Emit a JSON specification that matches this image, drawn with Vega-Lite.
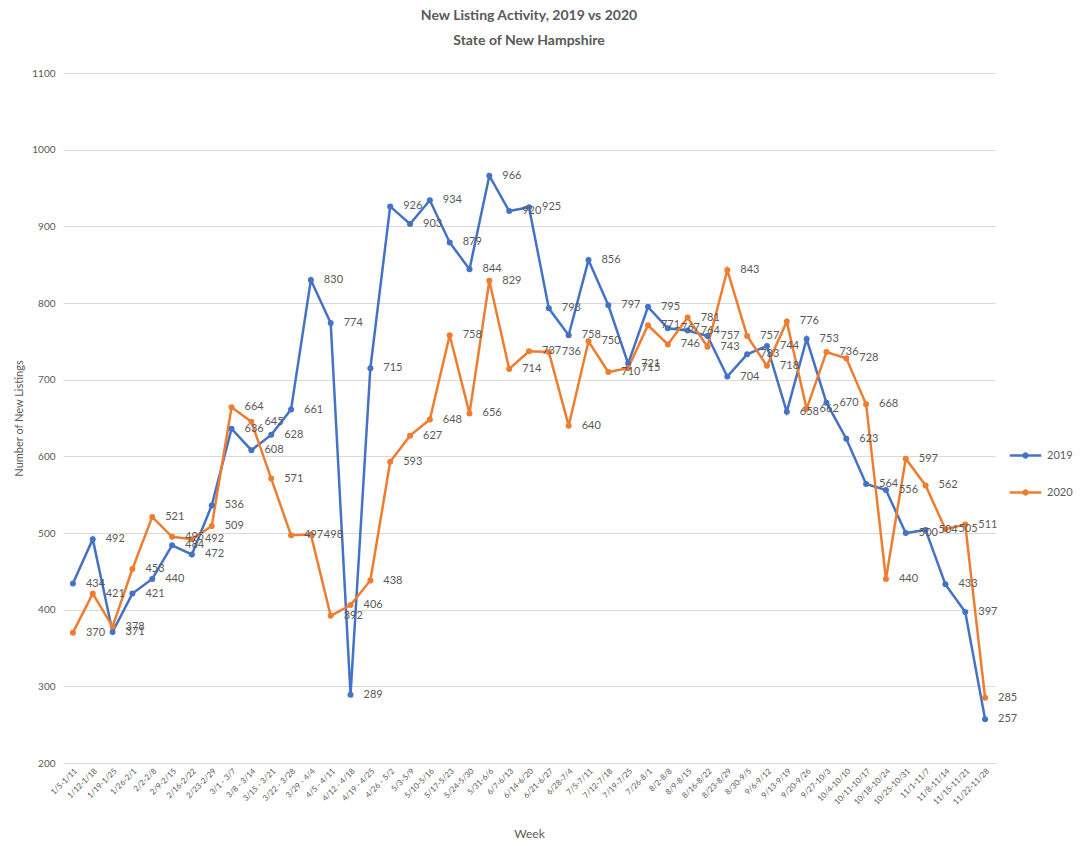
{
  "$schema": "https://vega.github.io/schema/vega-lite/v6.json",
  "autosize": {"type": "none"},
  "width": 932,
  "height": 690,
  "padding": {"left": 63, "top": 73, "right": 88, "bottom": 84},
  "background": "white",
  "config": {
    "font": "Lato",
    "view": {"stroke": null},
    "title": {"fontSize": 14, "fontWeight": "bold", "color": "#595959", "lineHeight": 25}
  },
  "title": {"text": ["New Listing Activity, 2019 vs 2020", "State of New Hampshire"], "anchor": "middle", "offset": 20},
  "data": {
    "values": [
      {"i": 0, "w": "1/5-1/11", "2019": 434, "2020": 370},
      {"i": 1, "w": "1/12-1/18", "2019": 492, "2020": 421},
      {"i": 2, "w": "1/19-1/25", "2019": 371, "2020": 378},
      {"i": 3, "w": "1/26-2/1", "2019": 421, "2020": 453},
      {"i": 4, "w": "2/2-2/8", "2019": 440, "2020": 521},
      {"i": 5, "w": "2/9-2/15", "2019": 484, "2020": 495},
      {"i": 6, "w": "2/16-2/22", "2019": 472, "2020": 492},
      {"i": 7, "w": "2/23-2/29", "2019": 536, "2020": 509},
      {"i": 8, "w": "3/1 - 3/7", "2019": 636, "2020": 664},
      {"i": 9, "w": "3/8 - 3/14", "2019": 608, "2020": 645},
      {"i": 10, "w": "3/15 - 3/21", "2019": 628, "2020": 571},
      {"i": 11, "w": "3/22 - 3/28", "2019": 661, "2020": 497},
      {"i": 12, "w": "3/29 - 4/4", "2019": 830, "2020": 498},
      {"i": 13, "w": "4/5 - 4/11", "2019": 774, "2020": 392},
      {"i": 14, "w": "4/12 - 4/18", "2019": 289, "2020": 406},
      {"i": 15, "w": "4/19 - 4/25", "2019": 715, "2020": 438},
      {"i": 16, "w": "4/26 - 5/2", "2019": 926, "2020": 593},
      {"i": 17, "w": "5/3-5/9", "2019": 903, "2020": 627},
      {"i": 18, "w": "5/10-5/16", "2019": 934, "2020": 648},
      {"i": 19, "w": "5/17-5/23", "2019": 879, "2020": 758},
      {"i": 20, "w": "5/24-5/30", "2019": 844, "2020": 656},
      {"i": 21, "w": "5/31-6/6", "2019": 966, "2020": 829},
      {"i": 22, "w": "6/7-6/13", "2019": 920, "2020": 714},
      {"i": 23, "w": "6/14-6/20", "2019": 925, "2020": 737},
      {"i": 24, "w": "6/21-6/27", "2019": 793, "2020": 736},
      {"i": 25, "w": "6/28-7/4", "2019": 758, "2020": 640},
      {"i": 26, "w": "7/5-7/11", "2019": 856, "2020": 750},
      {"i": 27, "w": "7/12-7/18", "2019": 797, "2020": 710},
      {"i": 28, "w": "7/19-7/25", "2019": 721, "2020": 715},
      {"i": 29, "w": "7/26-8/1", "2019": 795, "2020": 771},
      {"i": 30, "w": "8/2-8/8", "2019": 767, "2020": 746},
      {"i": 31, "w": "8/9-8/15", "2019": 764, "2020": 781},
      {"i": 32, "w": "8/16-8/22", "2019": 757, "2020": 743},
      {"i": 33, "w": "8/23-8/29", "2019": 704, "2020": 843},
      {"i": 34, "w": "8/30-9/5", "2019": 733, "2020": 757},
      {"i": 35, "w": "9/6-9/12", "2019": 744, "2020": 718},
      {"i": 36, "w": "9/13-9/19", "2019": 658, "2020": 776},
      {"i": 37, "w": "9/20-9/26", "2019": 753, "2020": 662},
      {"i": 38, "w": "9/27-10/3", "2019": 670, "2020": 736},
      {"i": 39, "w": "10/4-10/10", "2019": 623, "2020": 728},
      {"i": 40, "w": "10/11-10/17", "2019": 564, "2020": 668},
      {"i": 41, "w": "10/18-10/24", "2019": 556, "2020": 440},
      {"i": 42, "w": "10/25-10/31", "2019": 500, "2020": 597},
      {"i": 43, "w": "11/1-11/7", "2019": 504, "2020": 562},
      {"i": 44, "w": "11/8-11/14", "2019": 433, "2020": 505},
      {"i": 45, "w": "11/15-11/21", "2019": 397, "2020": 511},
      {"i": 46, "w": "11/22-11/28", "2019": 257, "2020": 285}
    ]
  },
  "transform": [{"fold": ["2019", "2020"], "as": ["year", "v"]}],
  "encoding": {
    "x": {
      "field": "w", "type": "ordinal", "sort": {"field": "i"},
      "scale": {"type": "point", "padding": 0.5},
      "axis": {
        "title": "Week", "titleFontSize": 12, "titleFontWeight": "normal", "titleColor": "#595959", "titlePadding": 22,
        "labelAngle": -45, "labelFontSize": 8, "labelColor": "#595959", "labelPadding": 4,
        "ticks": false, "domain": true, "domainColor": "#d9d9d9", "grid": false
      }
    },
    "y": {
      "field": "v", "type": "quantitative",
      "scale": {"domain": [200, 1100], "nice": false, "zero": false},
      "axis": {
        "title": "Number of New Listings", "titleFontSize": 11, "titleFontWeight": "normal", "titleColor": "#595959", "titlePadding": 7,
        "values": [200, 300, 400, 500, 600, 700, 800, 900, 1000, 1100], "format": "d",
        "labelFontSize": 10, "labelColor": "#595959", "labelPadding": 8,
        "ticks": false, "domain": false, "gridColor": "#d9d9d9", "gridWidth": 1
      }
    },
    "color": {
      "field": "year", "type": "nominal",
      "scale": {"domain": ["2019", "2020"], "range": ["#4472C4", "#ED7D31"]},
      "legend": {
        "title": null, "orient": "none", "legendX": 945, "legendY": 365,
        "labelFontSize": 11, "labelColor": "#595959", "labelOffset": 4,
        "symbolType": "M-1,0H1M0.12,0A0.12,0.12,0,1,1,-0.12,0A0.12,0.12,0,1,1,0.12,0Z",
        "symbolStrokeWidth": 2.5, "symbolSize": 1000, "rowPadding": 12
      }
    }
  },
  "layer": [
    {
      "mark": {"type": "line", "strokeWidth": 2.5, "point": {"filled": true, "size": 36}},
      "encoding": {"order": {"field": "i"}}
    },
    {
      "mark": {"type": "text", "align": "left", "baseline": "middle", "dx": 13, "fontSize": 11, "color": "#595959"},
      "encoding": {"text": {"field": "v", "type": "quantitative"}, "color": {"value": "#595959"}}
    }
  ]
}
